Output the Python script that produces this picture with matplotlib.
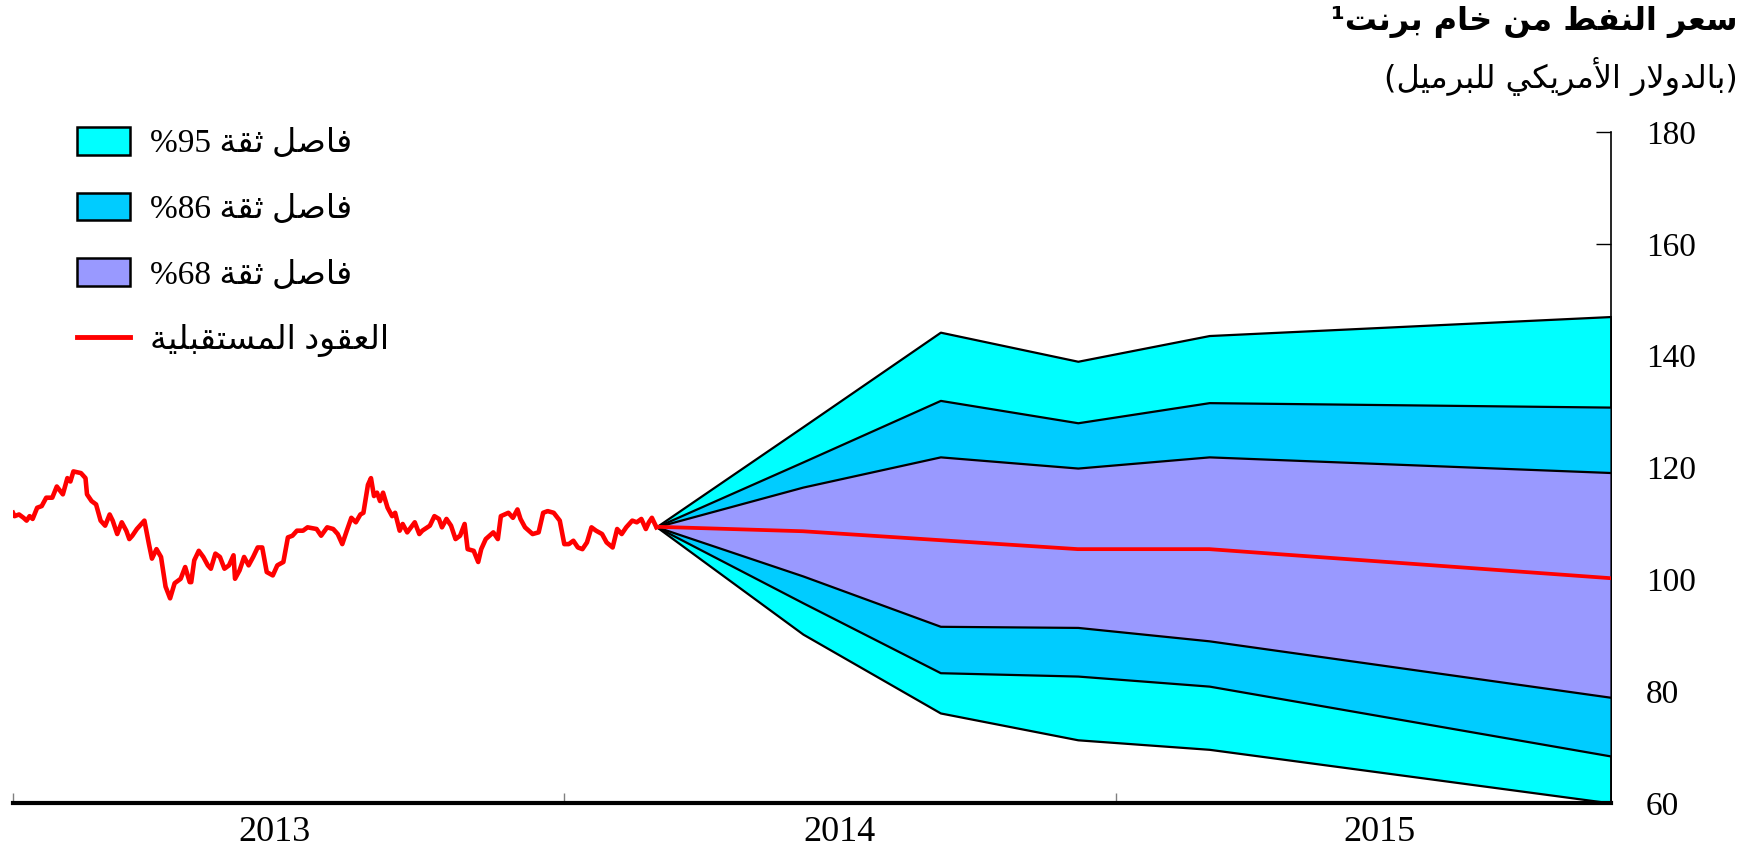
import numpy as np
import pandas as pd
import matplotlib
matplotlib.use("Agg")
import matplotlib.pyplot as plt
import matplotlib.dates as mdates
from matplotlib.patches import Patch
from matplotlib.lines import Line2D

# Brent history, days after 1 Jan 2013 and USD per barrel
hist_day = [0, 1, 4, 7, 9, 11, 13, 16, 19, 22, 26, 29, 33, 36, 38, 40, 45, 48, 49, 52,
            55, 58, 61, 64, 66, 69, 72, 75, 77, 79, 82, 87, 90, 92, 95, 98, 101, 104, 107, 111,
            114, 117, 118, 120, 123, 126, 129, 131, 134, 137, 140, 143, 146, 147, 150, 153, 156, 159, 162, 165,
            168, 172, 175, 179, 182, 185, 188, 192, 195, 201, 204, 208, 212, 215, 218, 221, 224, 227, 230, 232,
            235, 237, 239, 241, 243, 245, 248, 251, 253, 256, 258, 261, 266, 269, 271, 276, 279, 282, 284, 287,
            290, 293, 296, 299, 301, 305, 308, 310, 313, 318, 321, 323, 328, 331, 334, 336, 339, 344, 348, 351,
            354, 358, 362, 365, 368, 371, 374, 377, 380, 383, 386, 390, 393, 397, 400, 403, 406, 410, 413, 416,
            419, 421, 423, 426]
hist_price = [111.9, 111.3, 111.6, 111.0, 110.5, 111.3, 110.8, 112.8, 113.1, 114.6, 114.6, 116.6, 115.2, 118.1, 117.5, 119.3, 119.0, 118.1, 115.2, 114.0,
              113.4, 110.5, 109.6, 111.6, 110.5, 108.1, 110.2, 108.7, 107.2, 107.8, 109.0, 110.5, 106.3, 103.7, 105.4, 104.0, 98.7, 96.6, 99.3, 100.1,
              102.2, 99.5, 99.5, 103.4, 105.1, 104.0, 102.5, 101.9, 104.6, 104.0, 101.9, 102.5, 104.3, 100.1, 101.6, 104.0, 102.5, 104.0, 105.7, 105.7,
              101.3, 100.7, 102.5, 103.1, 107.5, 107.8, 108.7, 108.7, 109.3, 109.0, 107.8, 109.3, 109.0, 108.1, 106.3, 108.7, 111.0, 110.2, 111.6, 111.9,
              116.9, 118.1, 114.9, 115.5, 114.0, 115.5, 112.8, 111.3, 111.9, 108.7, 109.9, 108.4, 110.2, 108.1, 108.7, 109.6, 111.3, 110.8, 109.3, 110.8,
              109.6, 107.2, 107.8, 109.9, 105.4, 105.1, 103.1, 105.4, 107.2, 108.4, 107.2, 111.3, 111.9, 111.0, 112.5, 110.8, 109.3, 108.1, 108.4, 111.9,
              112.2, 111.9, 110.5, 106.3, 106.3, 106.9, 105.7, 105.4, 106.6, 109.3, 108.7, 108.1, 106.6, 105.7, 109.0, 108.1, 109.3, 110.5, 110.2, 110.8,
              109.0, 110.2, 111.0, 109.3]

# futures path and confidence bands
fc_dates = ["2014-03-03", "2014-06-08", "2014-09-07", "2014-12-07", "2015-03-04", "2015-11-25"]
futures = [109.4, 108.6, 107.0, 105.4, 105.4, 100.2]
upper95 = [109.4, 127.3, 144.2, 139.0, 143.6, 147.0]
upper86 = [109.4, 121.0, 132.0, 128.0, 131.6, 130.8]
upper68 = [109.4, 116.5, 121.9, 119.9, 121.9, 119.1]
lower68 = [109.4, 100.6, 91.6, 91.4, 89.0, 78.9]
lower86 = [109.4, 95.8, 83.3, 82.7, 80.9, 68.4]
lower95 = [109.4, 90.2, 76.1, 71.3, 69.6, 60.0]

year_labels = ["2013", "2014", "2015"]
year_label_dates = ["2013-06-23", "2014-07-02", "2015-06-25"]
yticks = [60, 80, 100, 120, 140, 160, 180]

title = "سعر النفط من خام برنت¹"
subtitle = "(بالدولار الأمريكي للبرميل)"
legend_labels = ["فاصل ثقة 95%", "فاصل ثقة 86%", "فاصل ثقة 68%", "العقود المستقبلية"]

# matplotlib has no arabic shaping, so pick presentation forms by hand
FORMS = {'ا': (0xFE8D, 2), 'أ': (0xFE83, 2), 'ب': (0xFE8F, 4), 'ة': (0xFE93, 2),
         'ت': (0xFE95, 4), 'ث': (0xFE99, 4), 'خ': (0xFEA5, 4), 'د': (0xFEA9, 2),
         'ر': (0xFEAD, 2), 'س': (0xFEB1, 4), 'ص': (0xFEB9, 4), 'ط': (0xFEC1, 4),
         'ع': (0xFEC9, 4), 'ف': (0xFED1, 4), 'ق': (0xFED5, 4), 'ك': (0xFED9, 4),
         'ل': (0xFEDD, 4), 'م': (0xFEE1, 4), 'ن': (0xFEE5, 4), 'و': (0xFEED, 2),
         'ي': (0xFEF1, 4), 'لا': (0xFEFB, 2), 'لأ': (0xFEF7, 2)}


def rtl(text):
    units = []
    i = 0
    while i < len(text):
        if text[i:i + 2] in ('لا', 'لأ'):
            units.append(text[i:i + 2])
            i += 2
        else:
            units.append(text[i])
            i += 1
    glyphs = []
    for k, u in enumerate(units):
        if u not in FORMS:
            glyphs.append(u)
            continue
        base, n = FORMS[u]
        prev = units[k - 1] if k > 0 else None
        nxt = units[k + 1] if k + 1 < len(units) else None
        jp = prev in FORMS and FORMS[prev][1] == 4
        jn = n == 4 and nxt in FORMS
        form = 3 if (jp and jn) else 1 if jp else 2 if jn else 0
        glyphs.append(chr(base + form))
    runs = []
    for g in glyphs:
        ltr = g.isascii() and g.isalnum()
        if runs and ltr and runs[-1][0]:
            runs[-1][1].append(g)
        else:
            runs.append([ltr, [g]])
    out = [g for ltr, gs in reversed(runs) for g in gs]
    mirror = {'(': ')', ')': '('}
    return ''.join(mirror.get(c, c) for c in out)


serif = ['Liberation Serif', 'DejaVu Sans']
t0 = pd.Timestamp("2013-01-01")
hx = t0 + pd.to_timedelta(hist_day, unit="D")
fx = pd.to_datetime(fc_dates)

fig = plt.figure(figsize=(17.6, 8.46), dpi=100)
ax = fig.add_axes([13 / 1760, 43 / 846, 1598 / 1760, 671 / 846])

ax.fill_between(fx, lower95, upper95, facecolor='#00FFFF', edgecolor='black', lw=1.6, zorder=2)
ax.fill_between(fx, lower86, upper86, facecolor='#00CCFF', edgecolor='black', lw=1.6, zorder=3)
ax.fill_between(fx, lower68, upper68, facecolor='#9999FF', edgecolor='black', lw=1.6, zorder=4)
ax.plot(fx, futures, color='red', lw=2.7, zorder=5)
ax.plot(hx, hist_price, color='red', lw=3.3, zorder=5)

ax.set_xlim(t0, fx[-1])
ax.set_ylim(60, 180)
for s in ['top', 'left']:
    ax.spines[s].set_visible(False)
ax.spines['bottom'].set_linewidth(3)
ax.spines['right'].set_linewidth(1.2)

ax.xaxis.set_major_locator(mdates.YearLocator())
ax.xaxis.set_major_formatter(plt.NullFormatter())
ax.set_xticks(pd.to_datetime(year_label_dates), minor=True)
ax.set_xticklabels(year_labels, minor=True, fontfamily=serif, fontsize=26)
ax.tick_params(axis='x', which='major', direction='in', length=7, width=1, color='gray')
ax.tick_params(axis='x', which='minor', length=0, pad=9)

ax.yaxis.tick_right()
ax.set_yticks(yticks)
ax.set_yticklabels([str(v) for v in yticks], fontfamily=serif, fontsize=24)
ax.tick_params(axis='y', direction='in', length=11, width=1, pad=25)

fig.text(1738 / 1760, 1 - 6 / 846, rtl(title), ha='right', va='top', fontsize=23,
         fontweight='bold', family=['DejaVu Sans'])
fig.text(1738 / 1760, 1 - 76 / 846, rtl(subtitle), ha='right', va='center', fontsize=23,
         family=['DejaVu Sans'])

handles = [Patch(facecolor='#00FFFF', edgecolor='black', lw=1.8),
           Patch(facecolor='#00CCFF', edgecolor='black', lw=1.8),
           Patch(facecolor='#9999FF', edgecolor='black', lw=1.8),
           Line2D([], [], color='red', lw=3.5)]
fig.legend(handles, [rtl(s) for s in legend_labels], loc='upper left',
           bbox_to_anchor=(77 / 1760, 1 - 127 / 846), frameon=False,
           prop={'family': serif, 'size': 24}, handlelength=1.6, handleheight=0.9,
           handletextpad=0.6, labelspacing=1.0, borderpad=0, borderaxespad=0)

fig.savefig("out.png", dpi=100)
